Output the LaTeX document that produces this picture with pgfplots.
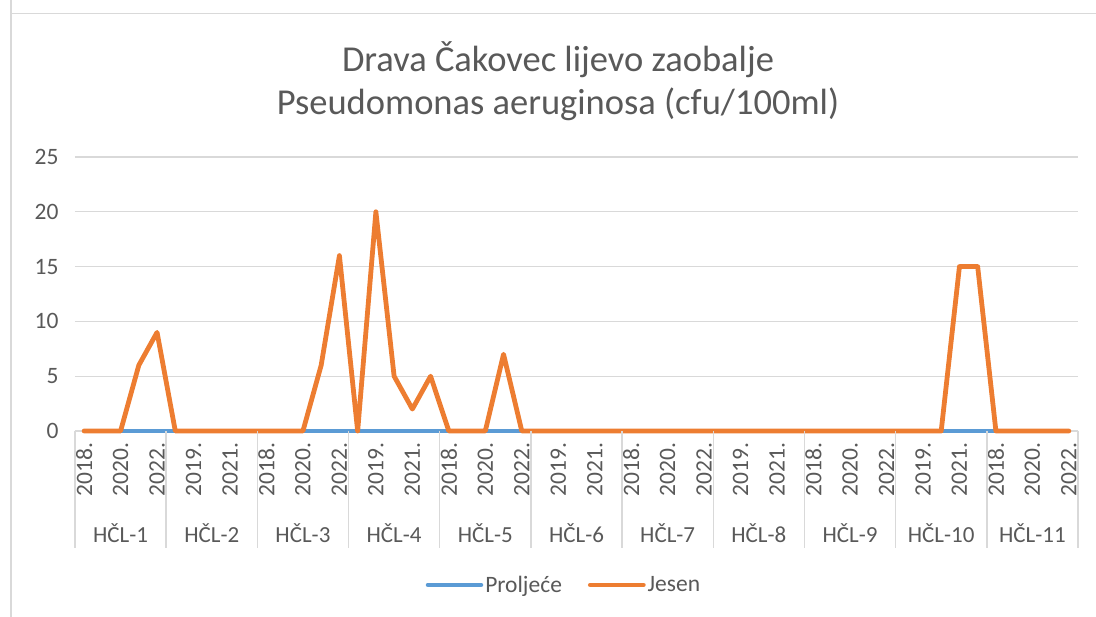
\documentclass[border=0pt]{standalone}
\usepackage{pgfplots}
\pgfplotsset{compat=1.18}
\usepackage{fontspec}
\setmainfont{Carlito}
\definecolor{txt}{HTML}{595959}
\definecolor{grd}{HTML}{D9D9D9}
\definecolor{cblue}{HTML}{5B9BD5}
\definecolor{corange}{HTML}{ED7D31}
\begin{document}
\begin{tikzpicture}[x=1pt,y=1pt]
\path[use as bounding box] (0,0) rectangle (1096,617);
\draw[grd,line width=1.5pt] (11,700) -- (11,603.5) -- (1200,603.5);
\draw[grd,line width=1.5pt] (11,603.5) -- (11,-10);
\node[txt,align=center,font=\fontsize{36.5}{43}\selectfont] at (558,536) {Drava Čakovec lijevo zaobalje\\Pseudomonas aeruginosa (cfu/100ml)};
\begin{axis}[
  at={(75pt,186pt)}, anchor=south west,
  scale only axis, width=1003pt, height=274pt,
  xmin=-0.5, xmax=54.5, ymin=0, ymax=25,
  ytick={0,5,...,25},
  xtick={0,2,...,54},
  xticklabels={2018.,2020.,2022.,2019.,2021.,2018.,2020.,2022.,2019.,2021.,2018.,2020.,2022.,2019.,2021.,2018.,2020.,2022.,2019.,2021.,2018.,2020.,2022.,2019.,2021.,2018.,2020.,2022.},
  major tick length=0pt,
  axis line style={draw=none},
  ymajorgrids, grid style={grd,line width=1.3pt},
  tick label style={txt,font=\fontsize{23.5}{26}\selectfont},
  yticklabel style={xshift=-13pt},
  xticklabel style={rotate=90,anchor=east,xshift=-8pt},
  clip=false,
  legend columns=2,
  legend style={draw=none,at={(0.4875,-0.562)},anchor=center,font=\fontsize{23.5}{26}\selectfont,text=txt,
    /tikz/every even column/.append style={column sep=24pt},inner sep=0pt},
  legend image code/.code={\draw[#1,line cap=round] (0pt,0pt) -- (53pt,0pt);},
  /pgf/number format/assume math mode=true,
]
\addplot[cblue,line width=4.5pt,line join=round] coordinates {
(0,0)(1,0)(2,0)(3,0)(4,0)(5,0)(6,0)(7,0)(8,0)(9,0)
(10,0)(11,0)(12,0)(13,0)(14,0)(15,0)(16,0)(17,0)(18,0)(19,0)
(20,0)(21,0)(22,0)(23,0)(24,0)(25,0)(26,0)(27,0)(28,0)(29,0)
(30,0)(31,0)(32,0)(33,0)(34,0)(35,0)(36,0)(37,0)(38,0)(39,0)
(40,0)(41,0)(42,0)(43,0)(44,0)(45,0)(46,0)(47,0)(48,0)(49,0)
(50,0)(51,0)(52,0)(53,0)(54,0)};
\addlegendentry{Proljeće}
\addplot[corange,line width=4.8pt,line join=round,line cap=round] coordinates {
(0,0)(1,0)(2,0)(3,6)(4,9)(5,0)(6,0)(7,0)(8,0)(9,0)
(10,0)(11,0)(12,0)(13,6)(14,16)(15,0)(16,20)(17,5)(18,2)(19,5)
(20,0)(21,0)(22,0)(23,7)(24,0)(25,0)(26,0)(27,0)(28,0)(29,0)
(30,0)(31,0)(32,0)(33,0)(34,0)(35,0)(36,0)(37,0)(38,0)(39,0)
(40,0)(41,0)(42,0)(43,0)(44,0)(45,0)(46,0)(47,0)(48,15)(49,15)
(50,0)(51,0)(52,0)(53,0)(54,0)};
\addlegendentry{Jesen}
\pgfplotsinvokeforeach{0,...,11}{
  \draw[grd,line width=1.5pt] (axis cs:{5*#1-0.5},0) -- ++(0pt,-117pt);
}
\pgfplotsinvokeforeach{1,...,11}{
  \node[txt,font=\fontsize{23}{26}\selectfont] at (axis cs:{5*#1-3},0) [yshift=-102pt] {HČL-#1};
}
\end{axis}
\end{tikzpicture}
\end{document}
